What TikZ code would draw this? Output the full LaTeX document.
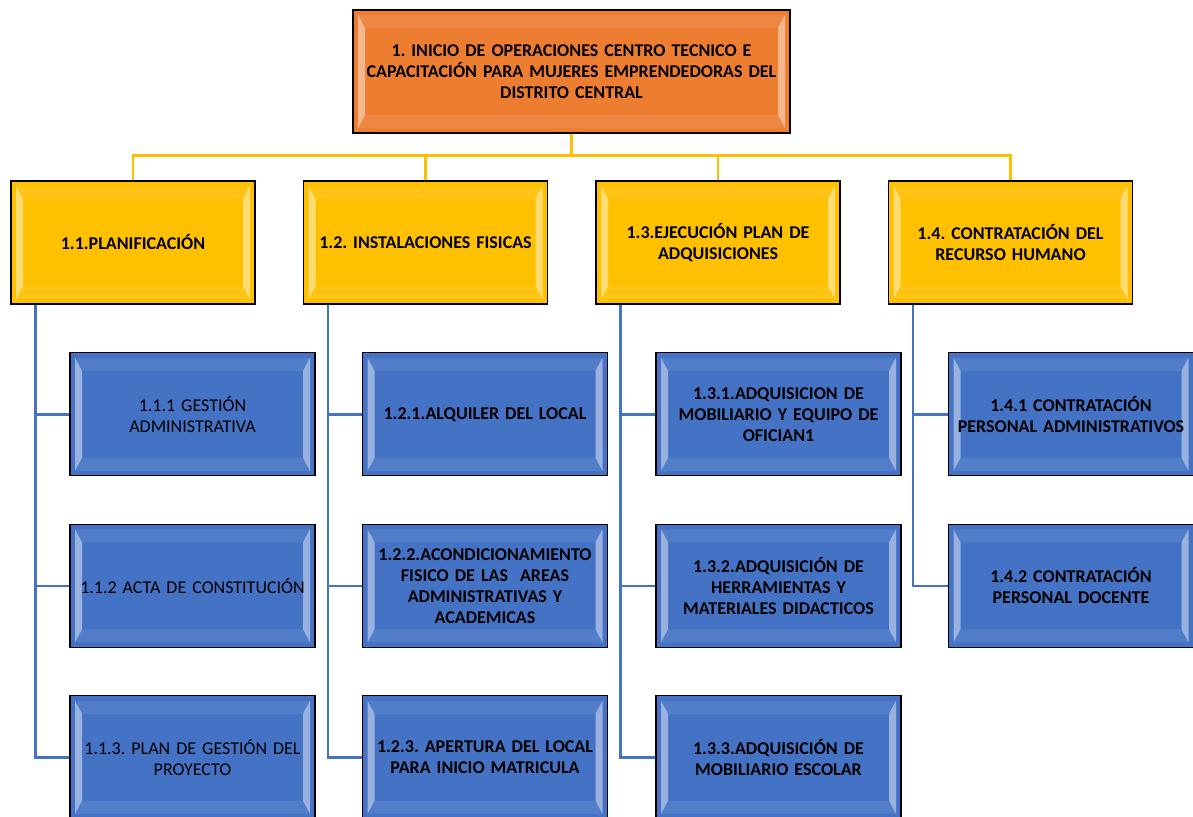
\documentclass[tikz,border=0pt]{standalone}
\usepackage{fontspec}
\setmainfont{Carlito}
\usetikzlibrary{positioning, calc}
\definecolor{rootfill}{HTML}{ED7D31}
\definecolor{gold}{HTML}{FFC000}
\definecolor{steel}{HTML}{4472C4}

\tikzset{
  bevel/.style={path picture={
      \coordinate (bvl) at (path picture bounding box.south west);
      \coordinate (bvr) at (path picture bounding box.north east);
      \fill[white, opacity=.45] ($(bvl|-bvr)+(5,-5)$) -- ++(7,-13) -- ($(bvl)+(12,18)$) -- ($(bvl)+(5,5)$) -- cycle;
      \fill[white, opacity=.45] ($(bvr)+(-5,-5)$) -- ++(-7,-13) -- ($(bvr|-bvl)+(-12,18)$) -- ($(bvr|-bvl)+(-5,5)$) -- cycle;
      \fill[white, opacity=.08] ($(bvl|-bvr)+(5,-5)$) -- ($(bvr)+(-5,-5)$) -- ++(-7,-13) -- ($(bvl|-bvr)+(12,-18)$) -- cycle;
      \fill[white, opacity=.08] ($(bvl)+(5,5)$) -- ($(bvr|-bvl)+(-5,5)$) -- ++(-7,13) -- ($(bvl)+(12,18)$) -- cycle;
  }}
}

\begin{document}
\frenchspacing
\begin{tikzpicture}[
    x=1pt, y=1pt,
    node distance=47.2pt,
    box/.style={rectangle, draw=black, line width=1.3pt, bevel, inner sep=0pt, align=center,
      font=\fontsize{18}{21}\selectfont\bfseries},
    root/.style={box, fill=rootfill, minimum width=437pt, minimum height=123pt, text width=436pt},
    phase/.style={box, fill=gold, minimum width=244pt, minimum height=123pt, text width=240pt},
    task/.style={box, fill=steel, minimum width=245pt, minimum height=123pt, text width=244pt},
    plain/.style={font=\fontsize{18}{21}\selectfont},
    ybus/.style={gold, line width=2.5pt},
    bline/.style={steel, line width=2.5pt}
  ]
  \useasboundingbox (0,0) rectangle (1193,-816);

  % Nodes
  \node[root] (root) at (571.5,-71.5) {1. INICIO DE OPERACIONES CENTRO TECNICO E\\CAPACITACIÓN PARA MUJERES EMPRENDEDORAS DEL\\DISTRITO CENTRAL};

  \node[phase] (p11) at (133,-242.5) {1.1.PLANIFICACIÓN};
  \node[phase, right=of p11] (p12) {1.2. INSTALACIONES FISICAS};
  \node[phase, right=of p12] (p13) {1.3.EJECUCIÓN PLAN DE\\ADQUISICIONES};
  \node[phase, right=of p13] (p14) {1.4. CONTRATACIÓN DEL\\RECURSO HUMANO};

  \node[task, plain, below=47.5pt of p11.south west, anchor=north west, xshift=59pt] (t111) {1.1.1 GESTIÓN\\ADMINISTRATIVA};
  \node[task, plain, below=of t111] (t112) {1.1.2 ACTA DE CONSTITUCIÓN};
  \node[task, plain, below=of t112] (t113) {1.1.3. PLAN DE GESTIÓN DEL\\PROYECTO};

  \node[task, below=47.5pt of p12.south west, anchor=north west, xshift=59pt] (t121) {1.2.1.ALQUILER DEL LOCAL};
  \node[task, below=of t121] (t122) {1.2.2.ACONDICIONAMIENTO\\FISICO DE LAS\ \ AREAS\\ADMINISTRATIVAS Y\\ACADEMICAS};
  \node[task, below=of t122] (t123) {1.2.3. APERTURA DEL LOCAL\\PARA INICIO MATRICULA};

  \node[task, below=47.5pt of p13.south west, anchor=north west, xshift=60pt] (t131) {1.3.1.ADQUISICION DE\\MOBILIARIO Y EQUIPO DE\\OFICIAN1};
  \node[task, below=of t131] (t132) {1.3.2.ADQUISICIÓN DE\\HERRAMIENTAS Y\\MATERIALES DIDACTICOS};
  \node[task, below=of t132] (t133) {1.3.3.ADQUISICIÓN DE\\MOBILIARIO ESCOLAR};

  \node[task, below=47.5pt of p14.south west, anchor=north west, xshift=60pt] (t141) {1.4.1 CONTRATACIÓN\\PERSONAL ADMINISTRATIVOS};
  \node[task, below=of t141] (t142) {1.4.2 CONTRATACIÓN\\PERSONAL DOCENTE};

  % Connectors
  \foreach \p in {p11, p12, p13, p14}
    \draw[ybus] (root.south) -- ++(0,-22) -| (\p.north);

  \foreach \p/\t in {p11/t111, p11/t112, p11/t113, p12/t121, p12/t122, p12/t123,
                     p13/t131, p13/t132, p13/t133, p14/t141, p14/t142}
    \draw[bline] ([xshift=25pt]\p.south west) |- (\t.west);
\end{tikzpicture}
\end{document}
